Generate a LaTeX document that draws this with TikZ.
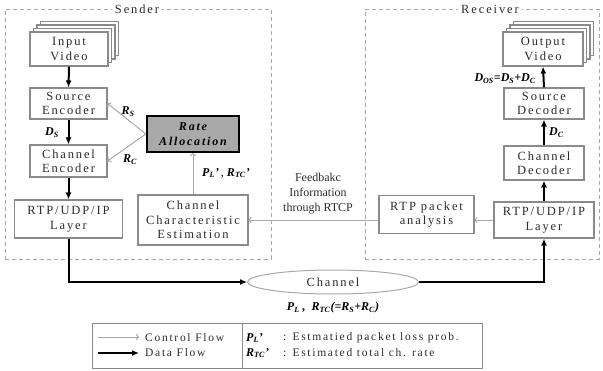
\documentclass[tikz,border=0pt]{standalone}
\usepackage{fontspec}
\setmainfont{Liberation Serif}
\newfontfamily\bxf[LetterSpace=15]{Liberation Serif}
\usetikzlibrary{arrows.meta,shapes.geometric}
\definecolor{bdr}{HTML}{8A8A8A}
\definecolor{ln}{HTML}{A8A8A8}
\definecolor{txt}{HTML}{2C2C2C}
\definecolor{rafill}{HTML}{A9A9A9}
\newcommand\bi[1]{\textbf{\textit{#1}}}
\newcommand\sbi[2]{\bi{#1}\textsubscript{\bi{#2}}}
\begin{document}
\begin{tikzpicture}[x=1pt,y=-1pt,
 box/.style={draw=bdr, line width=1.1pt, fill=white, inner sep=0pt, align=center,
   font=\bxf\fontsize{12.5}{14.5}\selectfont, text=txt},
 data/.style={line width=2pt, -{Latex[length=7pt,width=6pt]}},
 ctrl/.style={draw=ln, line width=1pt, -{To[length=3pt,width=6pt]}},
 frame/.style={draw=ln, line width=1pt, dash pattern=on 4pt off 3pt, inner sep=0pt},
 ttl/.style={fill=white, inner sep=3pt, font=\bxf\fontsize{12.5}{14}\selectfont, text=txt},
 lbl/.style={inner sep=0pt, font=\fontsize{12}{14}\selectfont},
 ltxt/.style={inner sep=0pt, anchor=west, font=\bxf\fontsize{11.5}{14}\selectfont, text=txt}]
\useasboundingbox (0,0) rectangle (603,370);

% frames
\node[frame, minimum width=266pt, minimum height=250pt] (sf) at (138,134) {};
\node[frame, minimum width=234pt, minimum height=250pt] (rf) at (482,134) {};
\node[ttl] (sfl) at (137,9) {Sender};
\node[ttl] (rfl) at (490,9) {Receiver};

% sender column
\node[box, minimum width=78pt, minimum height=34pt] (iv3) at (79.5,38.5) {};
\node[box, minimum width=78pt, minimum height=34pt] (iv2) at (76,42) {};
\node[box, minimum width=78pt, minimum height=34pt] (iv1) at (72.5,45.5) {};
\node[box, minimum width=78pt, minimum height=34pt] (iv) at (69,49) {Input\\Video};
\node[box, minimum width=77pt, minimum height=31pt] (se) at (68.5,103.5) {Source\\Encoder};
\node[box, minimum width=77pt, minimum height=32pt] (ce) at (68.5,161) {Channel\\Encoder};
\node[box, minimum width=108pt, minimum height=38pt] (rtps) at (68.5,219) {RTP/UDP/IP\\Layer};
\node[box, draw=black, line width=2.4pt, fill=rafill, text=black, minimum width=92pt, minimum height=36pt,
  font=\bxf\bfseries\itshape\fontsize{12}{14.5}\selectfont] (ra) at (193,134) {Rate\\Allocation};
\node[box, minimum width=110pt, minimum height=50pt] (cce) at (193,220) {Channel\\Characteristic\\Estimation};

% receiver column
\node[box, minimum width=80pt, minimum height=34pt] (ov3) at (553.5,38.5) {};
\node[box, minimum width=80pt, minimum height=34pt] (ov2) at (550,42) {};
\node[box, minimum width=80pt, minimum height=34pt] (ov1) at (546.5,45.5) {};
\node[box, minimum width=80pt, minimum height=34pt] (ov) at (543,49) {Output\\Video};
\node[box, minimum width=80pt, minimum height=31pt] (sd) at (544,103.5) {Source\\Decoder};
\node[box, minimum width=80pt, minimum height=34pt] (cd) at (544,163) {Channel\\Decoder};
\node[box, minimum width=100pt, minimum height=36pt] (rtpr) at (544,220) {RTP/UDP/IP\\Layer};
\node[box, minimum width=95pt, minimum height=38pt] (rpa) at (426.5,214.5) {RTP packet\\analysis};

% channel
\node[ellipse, draw=ln, line width=1pt, inner sep=0pt, minimum width=171pt, minimum height=24pt,
  font=\bxf\fontsize{12.5}{14}\selectfont, text=txt] (ch) at (333,282) {Channel};

% data flow
\draw[data] (iv.south) -- (se.north);
\draw[data] (se.south) -- (ce.north);
\draw[data] (ce.south) -- (rtps.north);
\draw[data] (rtps.south) |- (ch.west);
\draw[data] (ch.east) -| (rtpr.south);
\draw[data] (rtpr.north) -- (cd.south);
\draw[data] (cd.north) -- (sd.south);
\draw[data] (sd.north) -- (ov.south);

% control flow
\draw[ctrl] (ra.west) -- (se.east);
\draw[ctrl] (ra.west) -- (ce.east);
\draw[ctrl] (cce.north) -- (ra.south);
\draw[ctrl] (rtpr.west) -- (rtpr.west -| rpa.east);
\draw[ctrl] (rpa.west |- cce.east) -- (cce.east);

% labels
\node[lbl] (lds) at (52,133) {\sbi{D}{S}};
\node[lbl] (lrs) at (128,112) {\sbi{R}{S}};
\node[lbl] (lrc) at (130,160) {\sbi{R}{C}};
\node[lbl] (lpr) at (226,173) {\sbi{P}{L}\bi{'}\,, \sbi{R}{TC}\bi{'}};
\node[lbl, anchor=east] (ldos) at (536,79) {\sbi{D}{OS}\bi{=}\sbi{D}{S}\bi{+}\sbi{D}{C}};
\node[lbl, anchor=west] (ldc) at (549,133) {\sbi{D}{C}};
\node[lbl, align=center, font=\fontsize{12}{15}\selectfont, text=txt] (lfb) at (318,194) {Feedbakc\\Information\\through RTCP};
\node[lbl] (lch) at (333,308) {\sbi{P}{L}\ \bi{,}\ \ \sbi{R}{TC}\bi{(=}\sbi{R}{S}\bi{+}\sbi{R}{C}\bi{)}};

% legend
\node[draw=bdr, line width=1pt, minimum width=150pt, minimum height=45pt, inner sep=0pt] (lgl) at (167,345.5) {};
\node[draw=bdr, line width=1pt, minimum width=240pt, minimum height=45pt, inner sep=0pt] (lgr) at (362,345.5) {};
\coordinate (ca1) at (98,337);
\coordinate (ca2) at (139,337);
\coordinate (da1) at (98,353);
\coordinate (da2) at (139,353);
\draw[ctrl] (ca1) -- (ca2);
\draw[data] (da1) -- (da2);
\node[ltxt] (tcf) at (145,338) {Control Flow};
\node[ltxt] (tdf) at (145,353) {Data Flow};
\node[lbl, anchor=west] (tpl) at (246,338) {\sbi{P}{L}\bi{'}};
\node[lbl, anchor=west] (trt) at (246,353) {\sbi{R}{TC}\bi{'}};
\node[ltxt] (tpl2) at (283,338) {: Estmatied packet loss prob.};
\node[ltxt] (trt2) at (283,353) {: Estimated total ch. rate};
\end{tikzpicture}
\end{document}
